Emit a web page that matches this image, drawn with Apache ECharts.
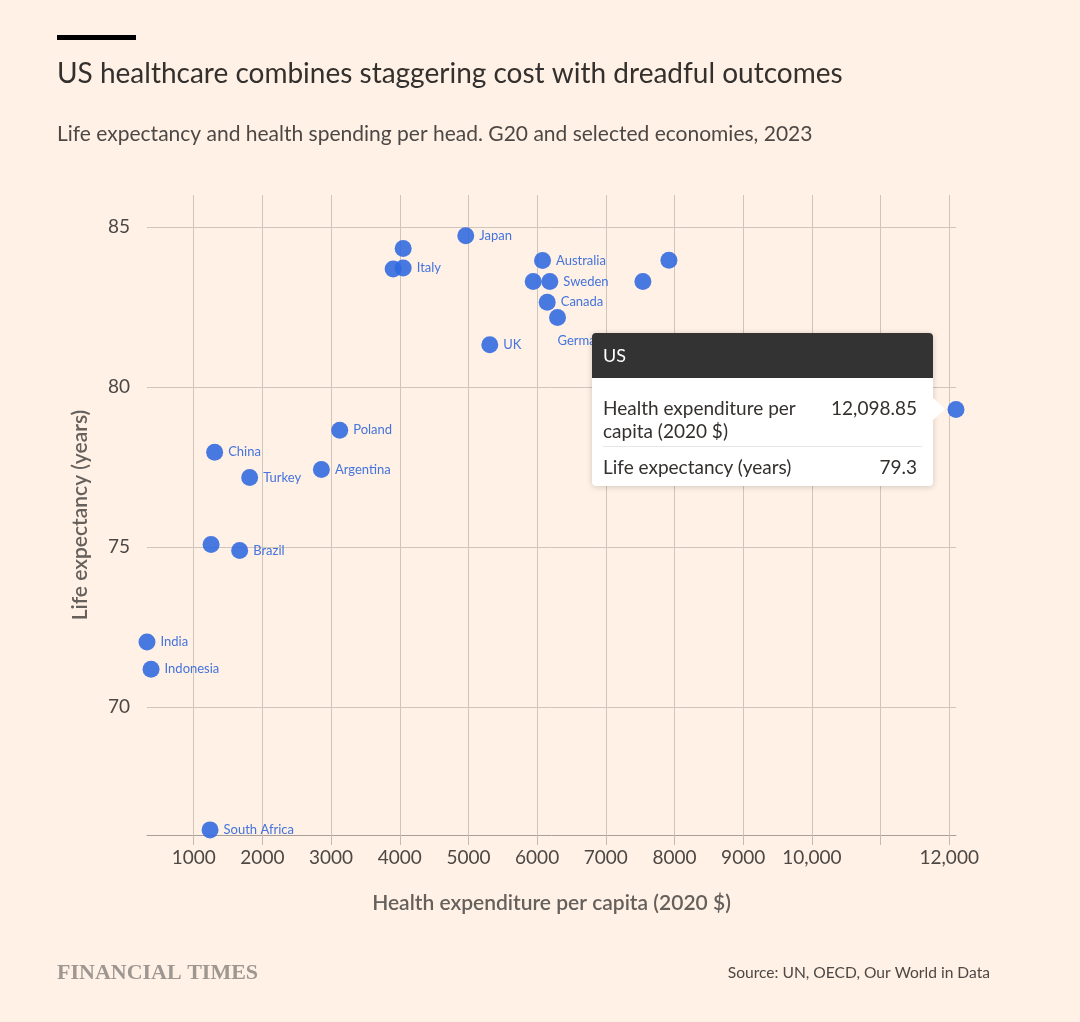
<!DOCTYPE html>
<html>
<head>
<meta charset="utf-8">
<title>US healthcare</title>
<script src="https://cdn.jsdelivr.net/npm/echarts@6/dist/echarts.min.js"></script>
<style>
  html, body { margin: 0; padding: 0; background: #fff1e5; }
  #chart { width: 1080px; height: 1022px; }
</style>
</head>
<body>
<div id="chart"></div>
<script>
// data
var countries = ['India', 'Indonesia', 'South Africa', 'China', 'Turkey', 'Poland', 'Argentina',
  'Mexico', 'Brazil', 'Japan', 'South Korea', 'Spain', 'Italy', 'UK', 'Australia', 'France',
  'Sweden', 'Canada', 'Germany', 'Norway', 'Switzerland', 'US'];
var spending = [320, 379, 1238, 1305, 1815, 3126, 2859,
  1253, 1669, 4961, 4050, 3904, 4050, 5311, 6079, 5943,
  6185, 6147, 6297, 7540, 7919, 12098.85];
var lifeExp = [72.03, 71.18, 66.16, 77.96, 77.17, 78.65, 77.42,
  75.08, 74.89, 84.73, 84.33, 83.69, 83.72, 81.32, 83.95, 83.30,
  83.30, 82.65, 82.17, 83.30, 83.96, 79.3];
var unlabelled = ['Mexico', 'South Korea', 'Spain', 'France', 'Norway', 'Switzerland', 'US'];

var xTicks = [1000, 2000, 3000, 4000, 5000, 6000, 7000, 8000, 9000, 10000, 11000, 12000];
var xLabels = [1000, 2000, 3000, 4000, 5000, 6000, 7000, 8000, 9000, 10000, 12000];
var yTicks = [70, 75, 80, 85];

var font = 'Lato, "Noto Sans", sans-serif';

function fmt(v) {
  if (v < 10000) return String(v);
  return v.toLocaleString('en-US');
}

var points = countries.map(function (c, i) {
  var item = { name: c, value: [spending[i], lifeExp[i]] };
  if (unlabelled.indexOf(c) >= 0) {
    item.label = { show: false };
  }
  if (c === 'Germany') {
    // label sits below the dot in the original
    item.label = { position: [8.5, 32], align: 'left', verticalAlign: 'middle' };
  }
  return item;
});

var chart = echarts.init(document.getElementById('chart'));

var option = {
  backgroundColor: '#fff1e5',
  animation: false,
  textStyle: { fontFamily: font },
  title: [{
    text: 'US healthcare combines staggering cost with dreadful outcomes',
    left: 57, top: 60, padding: 0,
    textStyle: { fontFamily: font, fontSize: 28, fontWeight: 'normal', color: '#33302e' }
  }, {
    text: 'Life expectancy and health spending per head. G20 and selected economies, 2023',
    left: 57, top: 124, padding: 0,
    textStyle: { fontFamily: font, fontSize: 21, fontWeight: 'normal', color: '#4d4845' }
  }, {
    text: 'FINANCIAL TIMES',
    left: 57, top: 962, padding: 0,
    textStyle: { fontFamily: '"Liberation Serif", serif', fontSize: 22, fontWeight: 'bold', color: '#9e9791' }
  }, {
    text: 'Source: UN, OECD, Our World in Data',
    right: 90, top: 965, padding: 0,
    textStyle: { fontFamily: font, fontSize: 15.6, fontWeight: 'normal', color: '#4d4845' }
  }],
  graphic: [{
    type: 'rect',
    left: 57, top: 35,
    shape: { width: 79, height: 5 },
    style: { fill: '#000' }
  }],
  grid: { left: 147, right: 124, top: 195, bottom: 187 },
  tooltip: {
    trigger: 'item',
    alwaysShowContent: true,
    position: function (point, params, dom, rect, size) {
      return [rect.x - size.contentSize[0] - 15, rect.y + rect.height / 2 - size.contentSize[1] / 2];
    },
    padding: 0,
    backgroundColor: '#fff',
    borderColor: '#fff',
    borderWidth: 0,
    transitionDuration: 0,
    extraCssText: 'box-shadow: 0 1px 6px rgba(0,0,0,0.18); border-radius: 4px;',
    formatter: function (p) {
      var row = 'display:flex;justify-content:space-between;align-items:flex-start;';
      return '<div style="position:relative;width:341px;font-family:' + font.replace(/"/g, "'") + ';color:#33302e;font-size:19px;">' +
        '<div style="position:absolute;right:-12px;top:50%;margin-top:-11.5px;width:0;height:0;' +
          'border-top:11.5px solid transparent;border-bottom:11.5px solid transparent;border-left:12px solid #fff;"></div>' +
        '<div style="background:#333;color:#fff;height:45px;line-height:45px;padding:0 11px;font-size:18px;border-radius:4px 4px 0 0;">' + p.name + '</div>' +
        '<div style="padding:0 11px;">' +
          '<div style="' + row + 'padding:18px 0 4px 0;line-height:23px;border-bottom:1px solid #e6e6e6;">' +
            '<span style="width:210px;white-space:normal;">Health expenditure per capita (2020 $)</span>' +
            '<span style="padding-right:5px;">' + p.value[0].toLocaleString('en-US', { minimumFractionDigits: 2 }) + '</span>' +
          '</div>' +
          '<div style="' + row + 'padding:8px 0 8px 0;line-height:23px;">' +
            '<span>Life expectancy (years)</span>' +
            '<span style="padding-right:5px;">' + p.value[1] + '</span>' +
          '</div>' +
        '</div>' +
      '</div>';
    }
  },
  xAxis: {
    type: 'value',
    min: 'dataMin',
    max: 'dataMax',
    name: 'Health expenditure per capita (2020 $)',
    nameLocation: 'middle',
    nameGap: 58,
    nameTextStyle: { fontFamily: font, fontSize: 21, fontWeight: 600, color: '#66605c' },
    axisLine: { show: true, lineStyle: { color: '#a8a098', width: 1 } },
    axisTick: { show: true, length: 10, customValues: xTicks, lineStyle: { color: '#c4bab0' } },
    axisLabel: {
      customValues: xLabels, margin: 13, fontSize: 19, color: '#4d4845', fontFamily: font,
      formatter: function (v) { return fmt(v); }
    },
    splitLine: { show: true, lineStyle: { color: '#cfc5bb', width: 1 } }
  },
  yAxis: {
    type: 'value',
    min: 66,
    max: 86,
    name: 'Life expectancy (years)',
    nameLocation: 'middle',
    nameGap: 56,
    nameTextStyle: { fontFamily: font, fontSize: 21, fontWeight: 600, color: '#66605c' },
    axisLine: { show: false },
    axisTick: { show: false, customValues: yTicks },
    axisLabel: { customValues: yTicks, margin: 17, fontSize: 19, color: '#4d4845', fontFamily: font },
    splitLine: { show: true, lineStyle: { color: '#cfc5bb', width: 1 } }
  },
  series: [{
    type: 'scatter',
    data: points,
    symbolSize: 17,
    itemStyle: { color: '#2f68e0', opacity: 0.88 },
    label: {
      show: true,
      position: 'right',
      distance: 5,
      formatter: '{b}',
      fontFamily: font,
      fontSize: 13,
      color: '#2a62dc'
    },
    emphasis: { disabled: true }
  }]
};

chart.setOption(option);
var usIndex = countries.indexOf('US');
chart.dispatchAction({ type: 'showTip', seriesIndex: 0, dataIndex: usIndex });
setTimeout(function () {
  chart.dispatchAction({ type: 'showTip', seriesIndex: 0, dataIndex: usIndex });
}, 50);
</script>
</body>
</html>
